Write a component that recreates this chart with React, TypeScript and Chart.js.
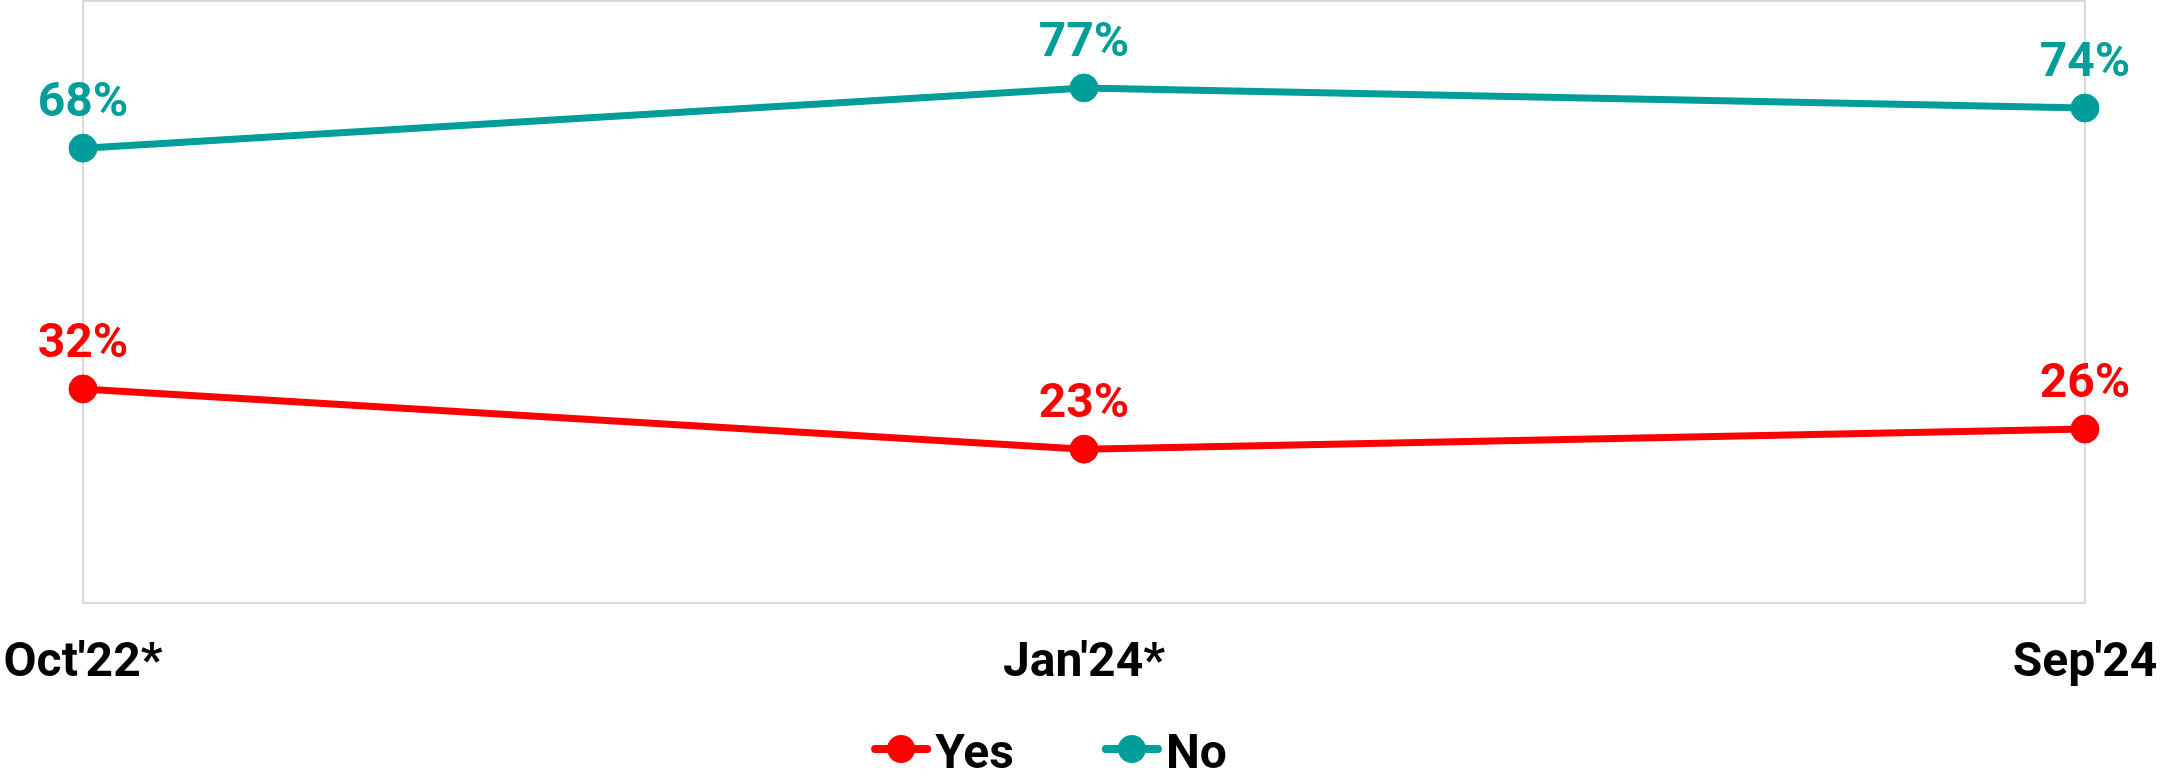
import React, { useEffect, useRef } from "react";
import { Chart, registerables } from "chart.js";

Chart.register(...registerables);

const categories = ["Oct'22*", "Jan'24*", "Sep'24"];
const yesValues = [32, 23, 26];
const noValues = [68, 77, 74];
const seriesNames = ["Yes", "No"];
const seriesColors = ["#FF0000", "#009E9A"];
const yMin = 0;
const yMax = 90;

const FONT = "Roboto, 'Noto Sans', sans-serif";
const X_AXIS_HEIGHT = 100;

const borderPlugin = {
  id: "areaBorder",
  beforeDatasetsDraw(chart: any) {
    const { ctx, chartArea } = chart;
    ctx.save();
    ctx.strokeStyle = "#d9d9d9";
    ctx.lineWidth = 2;
    ctx.strokeRect(chartArea.left, chartArea.top, chartArea.right - chartArea.left, chartArea.bottom - chartArea.top);
    ctx.restore();
  },
};

const valueLabelPlugin = {
  id: "valueLabels",
  afterDatasetsDraw(chart: any) {
    const { ctx } = chart;
    ctx.save();
    ctx.font = `bold 48px ${FONT}`;
    ctx.textAlign = "center";
    ctx.textBaseline = "alphabetic";
    chart.data.datasets.forEach((ds: any, i: number) => {
      const meta = chart.getDatasetMeta(i);
      meta.data.forEach((pt: any, j: number) => {
        ctx.fillStyle = ds.borderColor;
        ctx.fillText(`${ds.data[j]}%`, pt.x, pt.y - 32);
      });
    });
    ctx.restore();
  },
};

const legendPlugin = {
  id: "customLegend",
  afterDraw(chart: any) {
    const { ctx, width } = chart;
    ctx.save();
    ctx.font = `bold 48px ${FONT}`;
    ctx.textBaseline = "alphabetic";
    ctx.textAlign = "left";
    const markerW = 60;
    const gap = 4;
    const itemGap = 88;
    const items = chart.data.datasets.map((ds: any) => ({
      text: ds.label,
      color: ds.borderColor,
      w: ctx.measureText(ds.label).width,
    }));
    let total = 0;
    items.forEach((it: any, i: number) => {
      total += markerW + gap + it.w + (i < items.length - 1 ? itemGap : 0);
    });
    let x = width / 2 - total / 2 - 31;
    const cy = 749;
    items.forEach((it: any) => {
      ctx.strokeStyle = it.color;
      ctx.fillStyle = it.color;
      ctx.lineWidth = 8;
      ctx.lineCap = "round";
      ctx.beginPath();
      ctx.moveTo(x + 4, cy);
      ctx.lineTo(x + markerW - 4, cy);
      ctx.stroke();
      ctx.beginPath();
      ctx.arc(x + markerW / 2, cy, 14, 0, Math.PI * 2);
      ctx.fill();
      ctx.fillStyle = "#000";
      ctx.fillText(it.text, x + markerW + gap, 768);
      x += markerW + gap + it.w + itemGap;
    });
    ctx.restore();
  },
};

export default function App() {
  const ref = useRef<HTMLCanvasElement | null>(null);

  useEffect(() => {
    document.body.style.margin = "0";
    if (!ref.current) return;
    const chart = new Chart(ref.current, {
      type: "line",
      data: {
        labels: categories,
        datasets: [
          {
            label: seriesNames[0],
            data: yesValues,
            borderColor: seriesColors[0],
            backgroundColor: seriesColors[0],
            borderWidth: 7,
            pointRadius: 14,
            pointBorderWidth: 1,
            pointBackgroundColor: seriesColors[0],
            pointBorderColor: seriesColors[0],
            tension: 0,
            clip: false as any,
          },
          {
            label: seriesNames[1],
            data: noValues,
            borderColor: seriesColors[1],
            backgroundColor: seriesColors[1],
            borderWidth: 7,
            pointRadius: 14,
            pointBorderWidth: 1,
            pointBackgroundColor: seriesColors[1],
            pointBorderColor: seriesColors[1],
            tension: 0,
            clip: false as any,
          },
        ],
      },
      options: {
        animation: false,
        responsive: true,
        maintainAspectRatio: false,
        layout: {
          autoPadding: false,
          padding: { top: 1, left: 83, right: 75, bottom: 772 - 603 - X_AXIS_HEIGHT },
        },
        plugins: {
          legend: { display: false },
          tooltip: { enabled: false },
        },
        scales: {
          x: {
            grid: { display: false, drawTicks: false },
            border: { display: false },
            afterFit(scale: any) {
              scale.paddingLeft = 0;
              scale.paddingRight = 0;
              scale.paddingTop = 0;
              scale.paddingBottom = 0;
              scale.height = X_AXIS_HEIGHT;
            },
            ticks: {
              padding: 32,
              color: "#000",
              font: { family: FONT, size: 48, weight: "bold" },
              maxRotation: 0,
              autoSkip: false,
            },
          },
          y: {
            display: false,
            min: yMin,
            max: yMax,
          },
        },
      },
      plugins: [borderPlugin, valueLabelPlugin, legendPlugin],
    });
    return () => chart.destroy();
  }, []);

  return (
    <div style={{ width: "2160px", height: "772px", position: "relative" }}>
      <canvas ref={ref} />
    </div>
  );
}
